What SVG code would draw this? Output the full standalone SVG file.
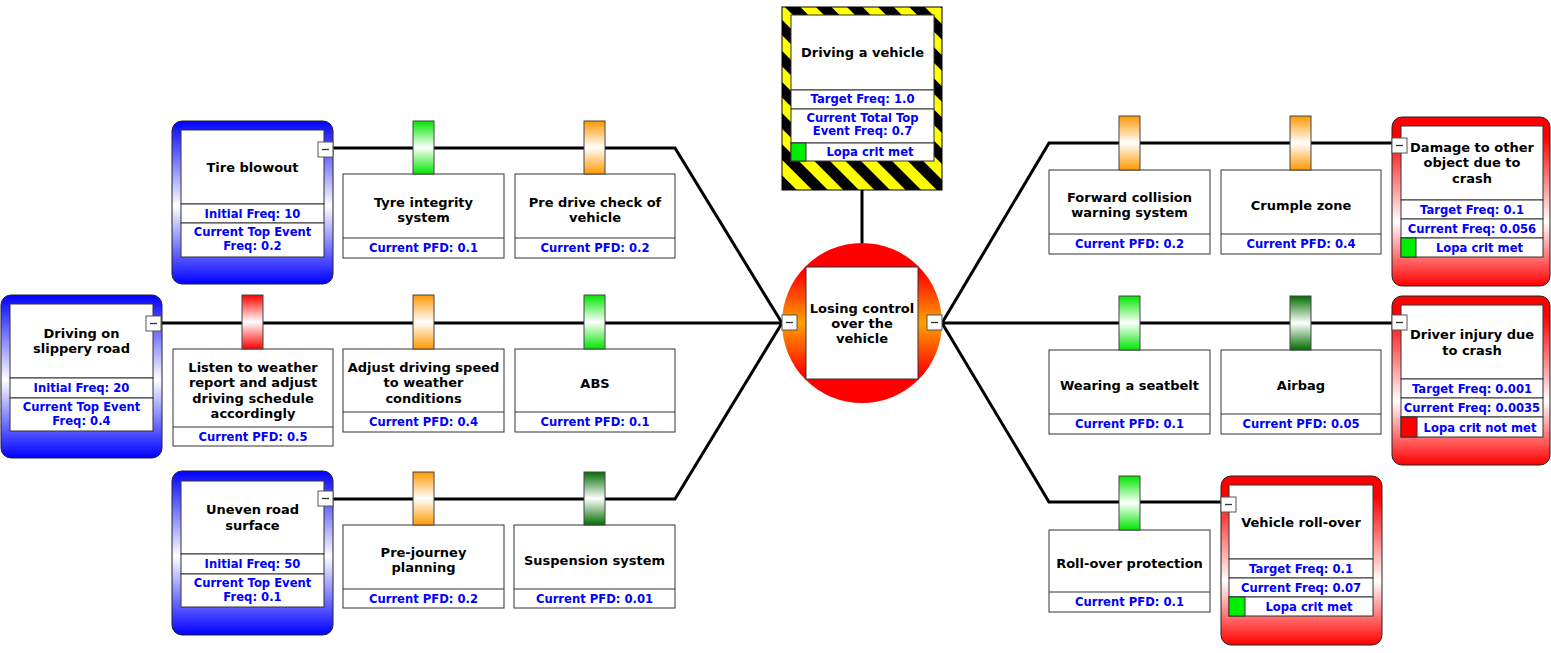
<svg xmlns="http://www.w3.org/2000/svg" width="1551" height="653" viewBox="0 0 1551 653">
<defs>
<linearGradient id="gBlue" x1="0" y1="0" x2="0" y2="1"><stop offset="0" stop-color="#0000ff"/><stop offset="0.52" stop-color="#ffffff"/><stop offset="1" stop-color="#0000ff"/></linearGradient>
<linearGradient id="gRed" x1="0" y1="0" x2="0" y2="1"><stop offset="0" stop-color="#ff0000"/><stop offset="0.12" stop-color="#ff0000"/><stop offset="0.62" stop-color="#ffffff"/><stop offset="1" stop-color="#ff0000"/></linearGradient>
<linearGradient id="gCirc" x1="0" y1="0" x2="0" y2="1"><stop offset="0.18" stop-color="#ff0000"/><stop offset="0.5" stop-color="#ffa200"/><stop offset="0.82" stop-color="#ff0000"/></linearGradient>
<linearGradient id="tGreen" x1="0" y1="0" x2="0" y2="1"><stop offset="0" stop-color="#00e600"/><stop offset="0.5" stop-color="#ffffff"/><stop offset="1" stop-color="#00e600"/></linearGradient>
<linearGradient id="tOrange" x1="0" y1="0" x2="0" y2="1"><stop offset="0" stop-color="#ff9900"/><stop offset="0.5" stop-color="#ffffff"/><stop offset="1" stop-color="#ff9900"/></linearGradient>
<linearGradient id="tRed" x1="0" y1="0" x2="0" y2="1"><stop offset="0" stop-color="#ff0000"/><stop offset="0.5" stop-color="#ffffff"/><stop offset="1" stop-color="#ff0000"/></linearGradient>
<linearGradient id="tDark" x1="0" y1="0" x2="0" y2="1"><stop offset="0" stop-color="#006e00"/><stop offset="0.5" stop-color="#ffffff"/><stop offset="1" stop-color="#006e00"/></linearGradient>
<pattern id="stripes" width="22" height="22" patternUnits="userSpaceOnUse" patternTransform="rotate(-45)"><rect width="22" height="22" fill="#ffff00"/><rect width="11" height="22" fill="#000"/></pattern>
</defs>
<style>
.ln{stroke:#000;stroke-width:3;fill:none}
.box{fill:#fff;stroke:#333;stroke-width:1}
.out{stroke:#222;stroke-width:1}
.tab{stroke:#444;stroke-width:1}
.mb{fill:#fff;stroke:#555;stroke-width:1}
.mm{stroke:#333;stroke-width:1.3}
text{font-family:"DejaVu Sans",Verdana,sans-serif;font-weight:bold;text-anchor:middle}
.t{font-size:13px;fill:#000}
.v{font-size:11.6px;fill:#0000ff}
</style>

<g id="connectors">
<path class="ln" d="M333,148 H675 L782,323"/>
<path class="ln" d="M161,323 H675 L782,323"/>
<path class="ln" d="M333,499 H675 L782,323"/>
<path class="ln" d="M942,323 L1049,143 H1392"/>
<path class="ln" d="M942,323 H1392"/>
<path class="ln" d="M942,323 L1049,502 H1221"/>
<path class="ln" d="M862,190 V243"/>
</g>

<g id="hazard">
<rect x="782" y="7" width="160" height="183" fill="url(#stripes)" stroke="#000"/>
<rect class="box" x="791" y="15" width="143" height="75"/>
<rect class="box" x="791" y="90" width="143" height="19"/>
<rect class="box" x="791" y="109" width="143" height="34"/>
<rect class="box" x="791" y="143" width="143" height="18"/>
<rect x="791" y="143" width="15" height="18" fill="#00ee00" stroke="#333"/>
<text class="t" x="862.5" y="56.5">Driving a vehicle</text>
<text class="v" x="862.5" y="103">Target Freq: 1.0</text>
<text class="v" x="862.5" y="122">Current Total Top</text>
<text class="v" x="862.5" y="135">Event Freq: 0.7</text>
<text class="v" x="870" y="155.5">Lopa crit met</text>
</g>

<g id="top-event">
<circle cx="862" cy="323" r="80" fill="url(#gCirc)"/>
<rect class="box" x="806" y="267" width="112" height="112"/>
<text class="t" x="862" y="312.5">Losing control</text>
<text class="t" x="862" y="327.5">over the</text>
<text class="t" x="862" y="342.5">vehicle</text>
<rect class="mb" x="782" y="315" width="15" height="15"/><path class="mm" d="M786,322.5 H793"/>
<rect class="mb" x="927" y="315" width="15" height="15"/><path class="mm" d="M931,322.5 H938"/>
</g>

<g id="threat-tire">
<rect class="out" x="172" y="121" width="161" height="163" rx="10" fill="url(#gBlue)"/>
<rect class="box" x="181" y="130" width="143" height="74"/>
<rect class="box" x="181" y="204" width="143" height="19"/>
<rect class="box" x="181" y="223" width="143" height="34"/>
<text class="t" x="252.5" y="171.5">Tire blowout</text>
<text class="v" x="252.5" y="217.5">Initial Freq: 10</text>
<text class="v" x="252.5" y="236">Current Top Event</text>
<text class="v" x="252.5" y="250">Freq: 0.2</text>
<rect class="mb" x="318" y="142" width="15" height="15"/><path class="mm" d="M322,149.5 H329"/>
</g>

<g id="threat-slippery">
<rect class="out" x="1" y="295" width="161" height="163" rx="10" fill="url(#gBlue)"/>
<rect class="box" x="10" y="304" width="143" height="74"/>
<rect class="box" x="10" y="378" width="143" height="20"/>
<rect class="box" x="10" y="398" width="143" height="33"/>
<text class="t" x="81.5" y="337.5">Driving on</text>
<text class="t" x="81.5" y="353">slippery road</text>
<text class="v" x="81.5" y="391.5">Initial Freq: 20</text>
<text class="v" x="81.5" y="411">Current Top Event</text>
<text class="v" x="81.5" y="424.5">Freq: 0.4</text>
<rect class="mb" x="146" y="316" width="15" height="15"/><path class="mm" d="M150,323.5 H157"/>
</g>

<g id="threat-uneven">
<rect class="out" x="172" y="471" width="161" height="164" rx="10" fill="url(#gBlue)"/>
<rect class="box" x="181" y="481" width="143" height="73"/>
<rect class="box" x="181" y="554" width="143" height="20"/>
<rect class="box" x="181" y="574" width="143" height="33"/>
<text class="t" x="252.5" y="513.5">Uneven road</text>
<text class="t" x="252.5" y="529.5">surface</text>
<text class="v" x="252.5" y="568">Initial Freq: 50</text>
<text class="v" x="252.5" y="587">Current Top Event</text>
<text class="v" x="252.5" y="601">Freq: 0.1</text>
<rect class="mb" x="318" y="491" width="15" height="15"/><path class="mm" d="M322,498.5 H329"/>
</g>

<g id="barrier-tyre">
<rect class="box" x="343" y="174" width="161" height="84"/>
<path class="box" d="M343,238 H504"/>
<rect class="tab" x="413" y="121" width="21" height="53" fill="url(#tGreen)"/>
<text class="t" x="423.5" y="206.5">Tyre integrity</text>
<text class="t" x="423.5" y="221.5">system</text>
<text class="v" x="423.5" y="252">Current PFD: 0.1</text>
</g>

<g id="barrier-predrive">
<rect class="box" x="515" y="174" width="160" height="84"/>
<path class="box" d="M515,238 H675"/>
<rect class="tab" x="584" y="121" width="21" height="53" fill="url(#tOrange)"/>
<text class="t" x="595" y="206.5">Pre drive check of</text>
<text class="t" x="595" y="221.5">vehicle</text>
<text class="v" x="595" y="252">Current PFD: 0.2</text>
</g>

<g id="barrier-listen">
<rect class="box" x="173" y="349" width="160" height="97"/>
<path class="box" d="M173,427 H333"/>
<rect class="tab" x="242" y="295" width="21" height="54" fill="url(#tRed)"/>
<text class="t" x="253" y="371.5">Listen to weather</text>
<text class="t" x="253" y="387">report and adjust</text>
<text class="t" x="253" y="402.5">driving schedule</text>
<text class="t" x="253" y="418">accordingly</text>
<text class="v" x="253" y="440.5">Current PFD: 0.5</text>
</g>

<g id="barrier-speed">
<rect class="box" x="343" y="349" width="161" height="83"/>
<path class="box" d="M343,412 H504"/>
<rect class="tab" x="413" y="295" width="21" height="54" fill="url(#tOrange)"/>
<text class="t" x="423.5" y="371.5">Adjust driving speed</text>
<text class="t" x="423.5" y="387">to weather</text>
<text class="t" x="423.5" y="402.5">conditions</text>
<text class="v" x="423.5" y="425.5">Current PFD: 0.4</text>
</g>

<g id="barrier-abs">
<rect class="box" x="515" y="349" width="160" height="83"/>
<path class="box" d="M515,412 H675"/>
<rect class="tab" x="584" y="295" width="21" height="54" fill="url(#tGreen)"/>
<text class="t" x="595" y="387.5">ABS</text>
<text class="v" x="595" y="425.5">Current PFD: 0.1</text>
</g>

<g id="barrier-prejourney">
<rect class="box" x="343" y="525" width="161" height="83"/>
<path class="box" d="M343,589 H504"/>
<rect class="tab" x="413" y="472" width="21" height="53" fill="url(#tOrange)"/>
<text class="t" x="423.5" y="556.5">Pre-journey</text>
<text class="t" x="423.5" y="572">planning</text>
<text class="v" x="423.5" y="602.5">Current PFD: 0.2</text>
</g>

<g id="barrier-suspension">
<rect class="box" x="514" y="525" width="161" height="83"/>
<path class="box" d="M514,589 H675"/>
<rect class="tab" x="584" y="472" width="21" height="53" fill="url(#tDark)"/>
<text class="t" x="594.5" y="564.5">Suspension system</text>
<text class="v" x="594.5" y="602.5">Current PFD: 0.01</text>
</g>

<g id="barrier-forward">
<rect class="box" x="1049" y="170" width="161" height="84"/>
<path class="box" d="M1049,234 H1210"/>
<rect class="tab" x="1119" y="116" width="21" height="54" fill="url(#tOrange)"/>
<text class="t" x="1129.5" y="201.5">Forward collision</text>
<text class="t" x="1129.5" y="217">warning system</text>
<text class="v" x="1129.5" y="247.5">Current PFD: 0.2</text>
</g>

<g id="barrier-crumple">
<rect class="box" x="1221" y="170" width="160" height="84"/>
<path class="box" d="M1221,234 H1381"/>
<rect class="tab" x="1290" y="116" width="21" height="54" fill="url(#tOrange)"/>
<text class="t" x="1301" y="209.5">Crumple zone</text>
<text class="v" x="1301" y="247.5">Current PFD: 0.4</text>
</g>

<g id="barrier-seatbelt">
<rect class="box" x="1049" y="350" width="161" height="84"/>
<path class="box" d="M1049,414 H1210"/>
<rect class="tab" x="1119" y="296" width="21" height="54" fill="url(#tGreen)"/>
<text class="t" x="1129.5" y="389.5">Wearing a seatbelt</text>
<text class="v" x="1129.5" y="427.5">Current PFD: 0.1</text>
</g>

<g id="barrier-airbag">
<rect class="box" x="1221" y="350" width="160" height="84"/>
<path class="box" d="M1221,414 H1381"/>
<rect class="tab" x="1290" y="296" width="21" height="54" fill="url(#tDark)"/>
<text class="t" x="1301" y="389.5">Airbag</text>
<text class="v" x="1301" y="427.5">Current PFD: 0.05</text>
</g>

<g id="barrier-rollover">
<rect class="box" x="1049" y="530" width="161" height="82"/>
<path class="box" d="M1049,592 H1210"/>
<rect class="tab" x="1119" y="476" width="21" height="54" fill="url(#tGreen)"/>
<text class="t" x="1129.5" y="568">Roll-over protection</text>
<text class="v" x="1129.5" y="606">Current PFD: 0.1</text>
</g>

<g id="consequence-damage">
<rect class="out" x="1392" y="117" width="158" height="169" rx="10" fill="url(#gRed)"/>
<rect class="box" x="1401" y="126" width="142" height="74"/>
<rect class="box" x="1401" y="200" width="142" height="19"/>
<rect class="box" x="1401" y="219" width="142" height="19"/>
<rect class="box" x="1401" y="238" width="142" height="19"/>
<rect x="1401" y="238" width="15" height="19" fill="#00ee00" stroke="#333"/>
<text class="t" x="1472" y="151.5">Damage to other</text>
<text class="t" x="1472" y="167">object due to</text>
<text class="t" x="1472" y="182.5">crash</text>
<text class="v" x="1472" y="213.5">Target Freq: 0.1</text>
<text class="v" x="1472" y="232.5">Current Freq: 0.056</text>
<text class="v" x="1479.5" y="251.5">Lopa crit met</text>
<rect class="mb" x="1392" y="138" width="15" height="15"/><path class="mm" d="M1396,145.5 H1403"/>
</g>

<g id="consequence-injury">
<rect class="out" x="1392" y="296" width="158" height="169" rx="10" fill="url(#gRed)"/>
<rect class="box" x="1401" y="305" width="142" height="74"/>
<rect class="box" x="1401" y="379" width="142" height="19"/>
<rect class="box" x="1401" y="398" width="142" height="19"/>
<rect class="box" x="1401" y="417" width="142" height="20"/>
<rect x="1401" y="417" width="16" height="20" fill="#ff0000" stroke="#333"/>
<text class="t" x="1472" y="338.5">Driver injury due</text>
<text class="t" x="1472" y="354.5">to crash</text>
<text class="v" x="1472" y="392.5">Target Freq: 0.001</text>
<text class="v" x="1472" y="411.5">Current Freq: 0.0035</text>
<text class="v" x="1480" y="431.5">Lopa crit not met</text>
<rect class="mb" x="1392" y="315" width="15" height="15"/><path class="mm" d="M1396,322.5 H1403"/>
</g>

<g id="consequence-rollover">
<rect class="out" x="1221" y="476" width="161" height="169" rx="10" fill="url(#gRed)"/>
<rect class="box" x="1229" y="485" width="144" height="74"/>
<rect class="box" x="1229" y="559" width="144" height="19"/>
<rect class="box" x="1229" y="578" width="144" height="19"/>
<rect class="box" x="1229" y="597" width="144" height="19"/>
<rect x="1229" y="597" width="16" height="19" fill="#00ee00" stroke="#333"/>
<text class="t" x="1301" y="526.5">Vehicle roll-over</text>
<text class="v" x="1301" y="572.5">Target Freq: 0.1</text>
<text class="v" x="1301" y="591.5">Current Freq: 0.07</text>
<text class="v" x="1309" y="610.5">Lopa crit met</text>
<rect class="mb" x="1221" y="497" width="15" height="15"/><path class="mm" d="M1225,504.5 H1232"/>
</g>
</svg>
